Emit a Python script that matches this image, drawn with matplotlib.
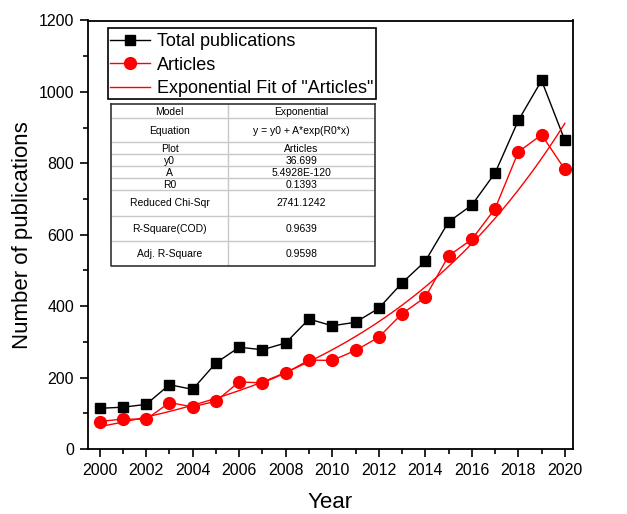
import numpy as np
import matplotlib
matplotlib.use("Agg")
import matplotlib.pyplot as plt
from matplotlib.ticker import MultipleLocator

plt.rcParams['font.family'] = ['Liberation Sans', 'DejaVu Sans']

# data
years = list(range(2000, 2021))
total_pubs = [114, 117, 125, 180, 167, 241, 285, 278, 297, 364, 345, 355,
              394, 465, 526, 636, 683, 773, 920, 1032, 864]
articles = [77, 84, 83, 130, 118, 134, 188, 185, 213, 249, 248, 276,
            313, 379, 425, 541, 587, 673, 832, 880, 783]

table_rows = [
    ("Model", "Exponential"),
    ("Equation", "y = y0 + A*exp(R0*x)"),
    ("Plot", "Articles"),
    ("y0", "36.699"),
    ("A", "5.4928E-120"),
    ("R0", "0.1393"),
    ("Reduced Chi-Sqr", "2741.1242"),
    ("R-Square(COD)", "0.9639"),
    ("Adj. R-Square", "0.9598"),
]
row_heights = [14, 24, 12, 12, 12, 12, 26, 25, 25]

# exponential fit y = y0 + A*exp(R0*x), least squares over R0 grid
x = np.array(years, dtype=float)
y = np.array(articles, dtype=float)
best = None
for r0 in np.linspace(0.05, 0.3, 2501):
    basis = np.column_stack([np.ones_like(x), np.exp(r0 * (x - 2000))])
    coef, *_ = np.linalg.lstsq(basis, y, rcond=None)
    sse = np.sum((basis @ coef - y) ** 2)
    if best is None or sse < best[0]:
        best = (sse, r0, coef)
_, r0_fit, (y0_fit, a_fit) = best
xf = np.linspace(2000, 2020, 300)
yf = y0_fit + a_fit * np.exp(r0_fit * (xf - 2000))

W, H = 627, 514
fig = plt.figure(figsize=(W / 100, H / 100), dpi=100)
ax = fig.add_axes([88 / W, 1 - 449 / H, (573 - 88) / W, (449 - 20.5) / H])

l1, = ax.plot(years, total_pubs, color='black', lw=1, marker='s', ms=7.5,
              label='Total publications')
l2, = ax.plot(years, articles, color='red', lw=1, marker='o', ms=8.5,
              label='Articles')
l3, = ax.plot(xf, yf, color='red', lw=1, label='Exponential Fit of "Articles"')

ax.set_xlim(1999.5, 2020.35)
ax.set_ylim(0, 1200)
ax.xaxis.set_major_locator(MultipleLocator(2))
ax.xaxis.set_minor_locator(MultipleLocator(1))
ax.yaxis.set_major_locator(MultipleLocator(200))
ax.yaxis.set_minor_locator(MultipleLocator(100))
ax.tick_params(which='major', direction='out', length=6, width=1.2,
               labelsize=11.5, pad=4)
ax.tick_params(which='minor', direction='out', length=3.5, width=1.2)
for s in ax.spines.values():
    s.set_linewidth(1.3)

ax.set_xlabel('Year', fontsize=16, labelpad=10)
ax.set_ylabel('Number of publications', fontsize=16, labelpad=4)

# legend frame drawn separately so box size can match
frame = plt.Rectangle((108 / W, 1 - 99 / H), (376 - 108) / W, (99 - 28) / H,
                      transform=fig.transFigure, facecolor='white',
                      edgecolor='black', lw=1.2, zorder=4, clip_on=False)
ax.add_patch(frame)
leg = ax.legend(handles=[l1, l2, l3], loc='upper left',
                bbox_to_anchor=(108 / W, 1 - 31.5 / H),
                bbox_transform=fig.transFigure, fontsize=13,
                frameon=False, borderaxespad=0, borderpad=0.1,
                labelspacing=0.36, handlelength=2.2, handletextpad=0.4)
leg.set_zorder(5)

# parameter table
tl, tt, tr = 111, 104, 375
tb = tt + sum(row_heights)
tax = fig.add_axes([tl / W, 1 - tb / H, (tr - tl) / W, (tb - tt) / H])
tax.set_xlim(0, tr - tl)
tax.set_ylim(tb - tt, 0)
tax.axis('off')
tax.add_patch(plt.Rectangle((0, 0), tr - tl, tb - tt, facecolor='white',
                            edgecolor='none', zorder=0))
split = 228 - tl
tax.plot([split, split], [0, tb - tt], color='#c8c8c8', lw=1)
ypos = 0
for (k, v), h in zip(table_rows, row_heights):
    tax.text(split / 2, ypos + h / 2 + 0.5, k, ha='center', va='center',
             fontsize=7.5)
    tax.text((split + tr - tl) / 2, ypos + h / 2 + 0.5, v, ha='center',
             va='center', fontsize=7.5)
    ypos += h
    if ypos < tb - tt:
        tax.plot([0, tr - tl], [ypos, ypos], color='#c8c8c8', lw=1)
tax.plot([0, 0, tr - tl, tr - tl], [0, tb - tt, tb - tt, 0],
         color='#333333', lw=1.2, clip_on=False)
tax.plot([0, tr - tl], [0, 0], color='#333333', lw=1.2, clip_on=False)

fig.savefig('out.png', dpi=100)
